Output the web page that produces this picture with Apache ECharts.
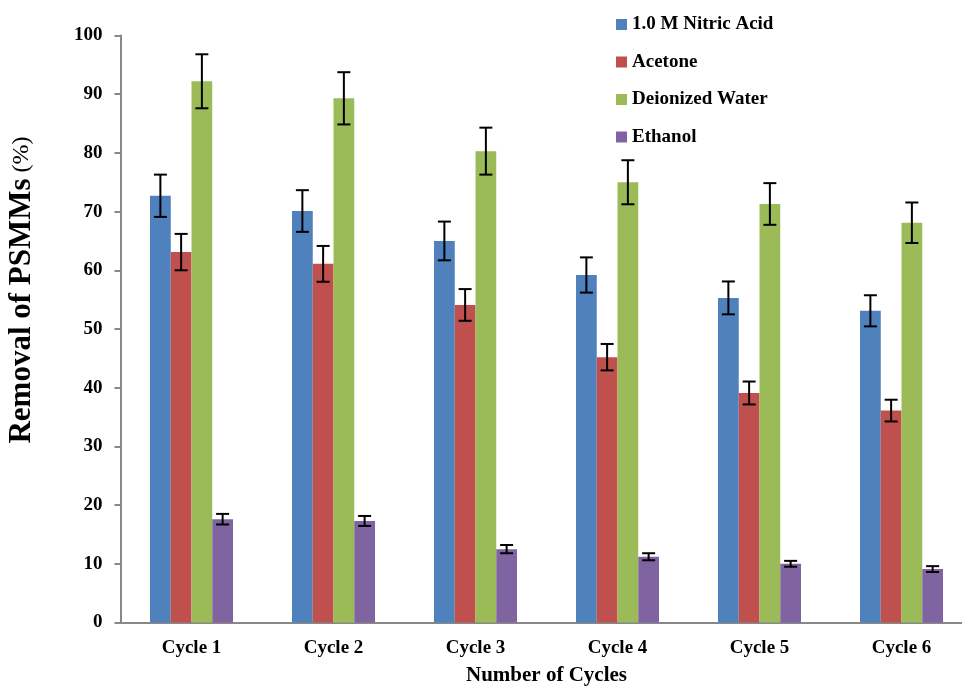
<!DOCTYPE html>
<html>
<head>
<meta charset="utf-8">
<script src="https://cdn.jsdelivr.net/npm/echarts@6/dist/echarts.min.js"></script>
<style>
html,body{margin:0;padding:0;background:#fff;}
#main{width:962px;height:687px;}
</style>
</head>
<body>
<div id="main"></div>
<script>
const categories = ['Cycle 1','Cycle 2','Cycle 3','Cycle 4','Cycle 5','Cycle 6'];
const seriesNames = ['1.0 M Nitric Acid','Acetone','Deionized Water','Ethanol'];
const nitricAcid = [72.7, 70.1, 65.0, 59.2, 55.3, 53.1];
const acetone = [63.1, 61.1, 54.1, 45.2, 39.1, 36.1];
const deionizedWater = [92.2, 89.3, 80.3, 75.0, 71.3, 68.1];
const ethanol = [17.6, 17.3, 12.5, 11.2, 10.0, 9.1];
const nitricAcidErr = [3.6, 3.55, 3.3, 3.0, 2.8, 2.65];
const acetoneErr = [3.1, 3.05, 2.7, 2.25, 1.95, 1.85];
const deionizedWaterErr = [4.6, 4.45, 4.0, 3.75, 3.55, 3.45];
const ethanolErr = [0.9, 0.85, 0.7, 0.6, 0.5, 0.5];
const yTicks = [0,10,20,30,40,50,60,70,80,90,100];

const colors = ['#4F81BD','#C0504D','#9BBB59','#8064A2'];
const values = [nitricAcid, acetone, deionizedWater, ethanol];
const errs = [nitricAcidErr, acetoneErr, deionizedWaterErr, ethanolErr];
const BAR_W = 20.75;
const FONT = '"Liberation Serif", "Times New Roman", serif';

const chart = echarts.init(document.getElementById('main'), null, {renderer:'canvas'});

const barSeries = seriesNames.map((n,i)=>({
  name:n, type:'bar', data: values[i], barWidth: BAR_W, barGap:'0%',
  itemStyle:{color:colors[i]}, z:2
}));

const errSeries = seriesNames.map((n,i)=>({
  type:'custom', name:n+' err', silent:true, z:5,
  data: values[i].map((v,k)=>[k, v, errs[i][k]]),
  encode:{x:0, y:1},
  renderItem:function(params, api){
    const idx = api.value(0), v = api.value(1), e = api.value(2);
    const top = api.coord([idx, v+e]);
    const bot = api.coord([idx, v-e]);
    const off = (i-1.5)*BAR_W;
    const x = top[0] + off;
    const cap = 6.5;
    const st = {stroke:'#000', lineWidth:2};
    return {type:'group', children:[
      {type:'line', shape:{x1:x, y1:top[1], x2:x, y2:bot[1]}, style:st},
      {type:'line', shape:{x1:x-cap, y1:top[1], x2:x+cap, y2:top[1]}, style:st},
      {type:'line', shape:{x1:x-cap, y1:bot[1], x2:x+cap, y2:bot[1]}, style:st}
    ]};
  }
}));

const option = {
  animation:false,
  backgroundColor:'#fff',
  textStyle:{fontFamily:FONT},
  grid:{left:120.5, right:-10.5, top:35.5, bottom:64.5, containLabel:false, outerBoundsMode:'none'},
  legend:{
    data: seriesNames,
    orient:'vertical', left:611, top:10,
    itemWidth:11, itemHeight:11, itemGap:18.5,
    icon:'rect',
    textStyle:{fontFamily:FONT, fontWeight:'bold', fontSize:19, color:'#000', lineHeight:19}
  },
  xAxis:{
    type:'category', data:categories,
    axisLine:{lineStyle:{color:'#888', width:2}},
    axisTick:{show:false},
    axisLabel:{fontFamily:FONT, fontWeight:'bold', fontSize:19, color:'#000', margin:16},
    name:'Number of Cycles', nameLocation:'middle', nameGap:43,
    nameTextStyle:{fontFamily:FONT, fontWeight:'bold', fontSize:21, color:'#000'}
  },
  yAxis:{
    type:'value', min:yTicks[0], max:yTicks[yTicks.length-1], interval:yTicks[1]-yTicks[0],
    axisLine:{show:true, lineStyle:{color:'#888', width:2}},
    axisTick:{show:true, length:6, lineStyle:{color:'#888', width:2}},
    splitLine:{show:false},
    axisLabel:{fontFamily:FONT, fontWeight:'bold', fontSize:19, color:'#000', margin:18}
  },
  graphic:[{
    type:'text', x:22, y:290, rotation:Math.PI/2,
    style:{
      text:'{b|Removal of PSMMs}{n| (%)}',
      align:'center', verticalAlign:'middle',
      rich:{
        b:{fontFamily:FONT, fontWeight:'bold', fontSize:31, fill:'#000'},
        n:{fontFamily:FONT, fontWeight:'normal', fontSize:24, fill:'#000'}
      }
    }
  }],
  series: barSeries.concat(errSeries)
};
chart.setOption(option);
</script>
</body>
</html>
